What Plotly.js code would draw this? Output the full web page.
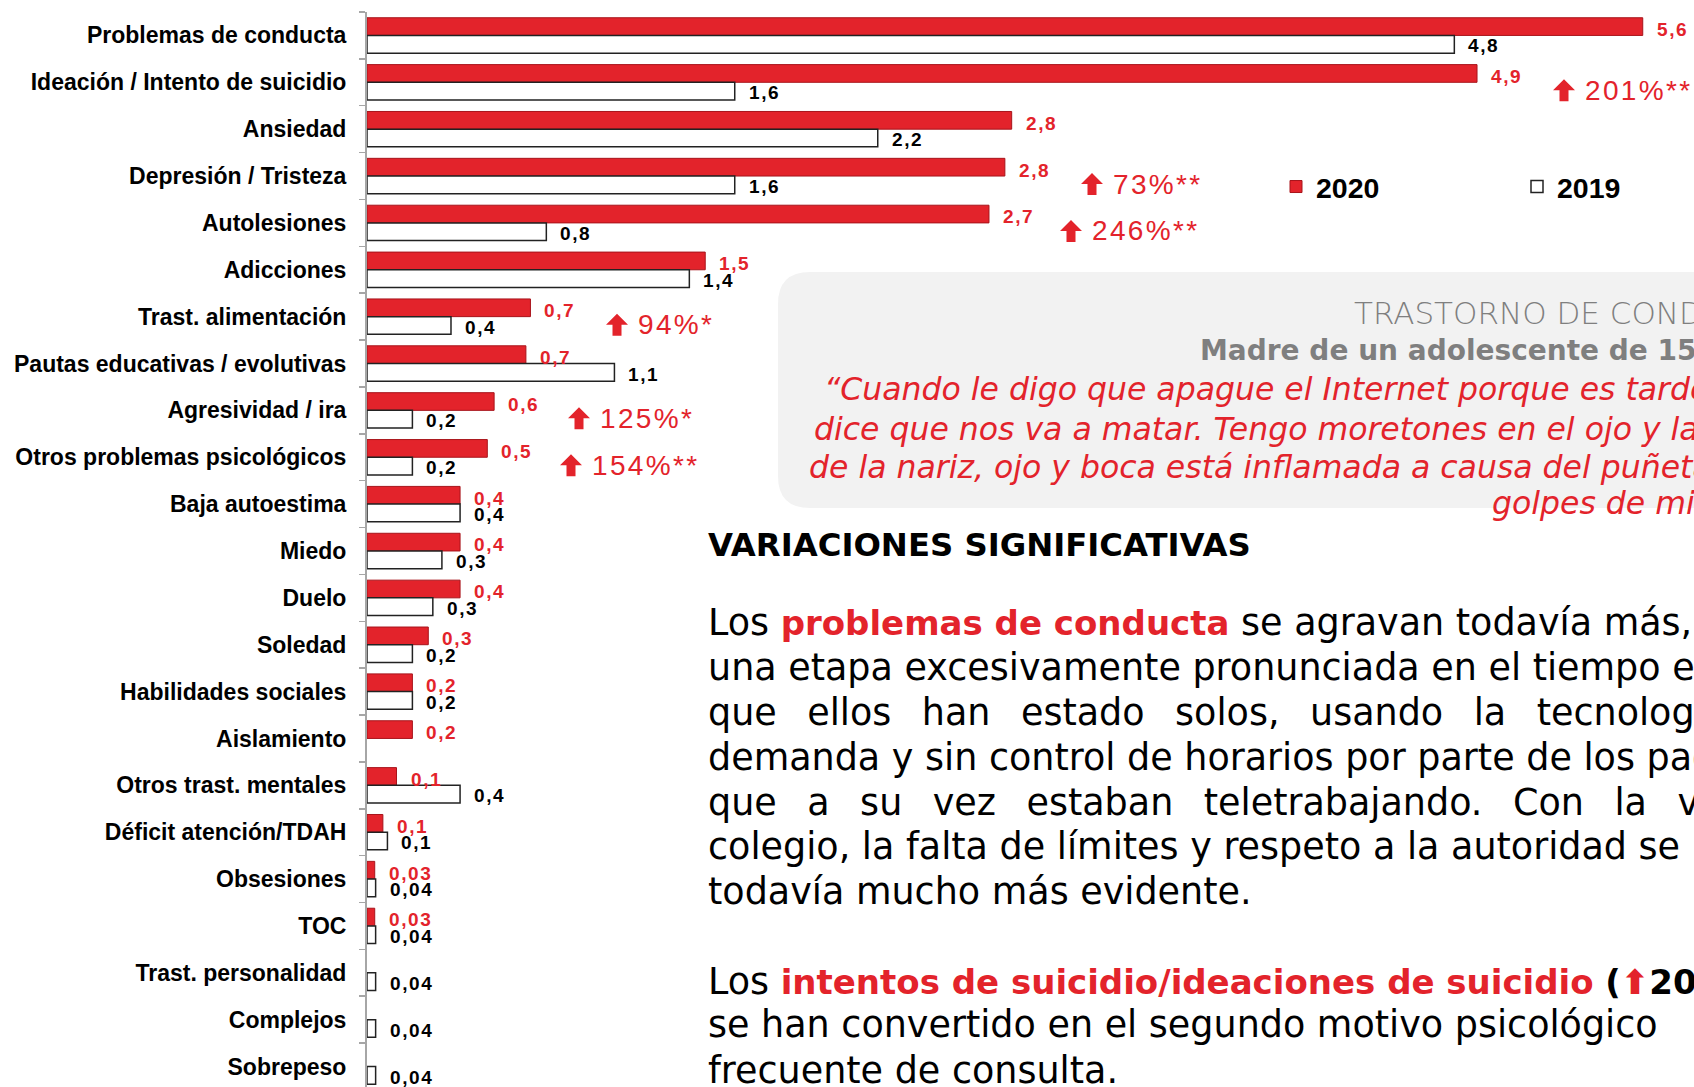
<!DOCTYPE html>
<html><head><meta charset="utf-8">
<script src="https://cdn.plot.ly/plotly-3.0.1.min.js"></script>
<style>html,body{margin:0;padding:0;background:#fff;overflow:hidden}#chart{width:1694px;height:1087px}</style>
</head><body><div id="chart"></div>
<script>
// ---------- DATA ----------
const categories = ["Problemas de conducta","Ideación / Intento de suicidio","Ansiedad","Depresión / Tristeza","Autolesiones","Adicciones","Trast. alimentación","Pautas educativas / evolutivas","Agresividad / ira","Otros problemas psicológicos","Baja autoestima","Miedo","Duelo","Soledad","Habilidades sociales","Aislamiento","Otros trast. mentales","Déficit atención/TDAH","Obsesiones","TOC","Trast. personalidad","Complejos","Sobrepeso"];
const values2020 = [5.62,4.89,2.84,2.81,2.74,1.49,0.72,0.70,0.56,0.53,0.41,0.41,0.41,0.27,0.20,0.20,0.13,0.07,0.034,0.034,null,null,null];
const values2019 = [4.79,1.62,2.25,1.62,0.79,1.42,0.37,1.09,0.20,0.20,0.41,0.33,0.29,0.20,0.20,null,0.41,0.09,0.038,0.038,0.038,0.038,0.038];
const labels2020 = ["5,6","4,9","2,8","2,8","2,7","1,5","0,7","0,7","0,6","0,5","0,4","0,4","0,4","0,3","0,2","0,2","0,1","0,1","0,03","0,03","","",""];
const labels2019 = ["4,8","1,6","2,2","1,6","0,8","1,4","0,4","1,1","0,2","0,2","0,4","0,3","0,3","0,2","0,2","","0,4","0,1","0,04","0,04","0,04","0,04","0,04"];
const changeCats = ["Ideación / Intento de suicidio","Depresión / Tristeza","Autolesiones","Trast. alimentación","Agresividad / ira","Otros problemas psicológicos"];
const changeLabels = ["201%**","73%**","246%**","94%*","125%*","154%**"];
const seriesNames = ["2020","2019"];

// ---------- STYLE / POSITIONS ----------
const W = 1694, H = 1087, L = 367, T = 12, B = 0;
const PXU = 227;                       // pixels per unit on x
const changeX = [1585,1113,1092,638,600,592];   // left pixel of the % text
const RED = '#e3232b';
const px = x => (x - L) / (W - L);
const py = y => (H - B - y) / (H - T - B);
const sp = s => s.split('').join('\u200a');
// block up-arrow icon, pixels relative to anchor (y up)
const arrowPath = 'M0,3 L11,-8 L4.5,-8 L4.5,-19 L-4.5,-19 L-4.5,-8 L-11,-8 Z';

const traces = [
  {type:'bar', orientation:'h', name:seriesNames[0], y:categories, x:values2020,
   marker:{color:RED, line:{color:'#a8141b', width:1}}, hoverinfo:'x+y'},
  {type:'bar', orientation:'h', name:seriesNames[1], y:categories, x:values2019,
   marker:{color:'#ffffff', line:{color:'#222', width:1.5}}, hoverinfo:'x+y'}
];

const ann = [];
const shapes = [];
categories.forEach((c,i)=>{
  if (labels2020[i]) ann.push({x:values2020[i], y:c, xref:'x', yref:'y', text:sp(labels2020[i]),
    xanchor:'left', yanchor:'middle', xshift:12, yshift:6, showarrow:false,
    font:{family:'Liberation Sans, Arial', size:19, weight:'bold', color:RED}});
  if (labels2019[i]) ann.push({x:values2019[i], y:c, xref:'x', yref:'y', text:sp(labels2019[i]),
    xanchor:'left', yanchor:'middle', xshift:12, yshift:-10.5, showarrow:false,
    font:{family:'Liberation Sans, Arial', size:19, weight:'bold', color:'#000'}});
});
changeCats.forEach((c,i)=>{
  ann.push({x:px(changeX[i]-2), xref:'paper', y:c, yref:'y', yshift:-8, xanchor:'left', yanchor:'middle',
    showarrow:false, text:sp(changeLabels[i]),
    font:{family:'Liberation Sans, Arial', size:28, color:RED}});
  shapes.push({type:'path', xref:'paper', yref:'y', xsizemode:'pixel', ysizemode:'pixel',
    xanchor:px(changeX[i]-21), yanchor:c, path:arrowPath, fillcolor:RED, line:{width:0}});
});

// text block lines
const sans = 'DejaVu Sans';
function txt(x,y,text,font){ ann.push({x:px(x), y:py(y), xref:'paper', yref:'paper', xanchor:'left', yanchor:'middle', showarrow:false, text:text, align:'left', font:font}); }
const gray = '#7f7f7f';
txt(1352,313,'TRASTORNO DE CONDUCTA',{family:sans,size:31,color:gray,weight:300});
txt(1198,351,'<b>Madre de un adolescente de 15 años</b>',{family:sans,size:28,color:gray});
const qf = {family:sans,size:31.5,color:RED,style:'italic'};
txt(822,389,'“Cuando le digo que apague el Internet porque es tarde, me',qf);
txt(812,429,'dice que nos va a matar. Tengo moretones en el ojo y la parte',qf);
txt(807,467,'de la nariz, ojo y boca está inflamada a causa del puñetazo y',qf);
txt(1490,503,'golpes de mi hijo”',qf);
txt(706,545,'<b>VARIACIONES SIGNIFICATIVAS</b>',{family:sans,size:32.3,color:'#000'});
const bf = {family:sans,size:36.5,color:'#000'};
const gap = '\u00a0\u00a0\u2009';
const R = s => '<b><span style="color:'+RED+';font-size:34px">'+s+'</span></b>';
txt(706,622,'Los '+R('problemas de conducta')+' se agravan todavía más, tras',bf);
txt(706,667,'una etapa excesivamente pronunciada en el tiempo en el',bf);
txt(706,712,['que','ellos','han','estado','solos,','usando','la','tecnología','a'].join(gap),bf);
txt(706,757,'demanda y sin control de horarios por parte de los padres,',bf);
txt(706,802,['que','a','su','vez','estaban','teletrabajando.','Con','la','vuelta','al'].join(gap),bf);
txt(706,846,'colegio, la falta de límites y respeto a la autoridad se ha hecho',bf);
txt(706,891,'todavía mucho más evidente.',bf);
txt(706,981,'Los '+R('intentos de suicidio/ideaciones de suicidio')+' <b style="font-size:34px">(</b><span style="color:'+RED+';font-family:DejaVu Sans;font-weight:bold;font-size:34px">⬆</span><b style="font-size:34px">200%)</b>',bf);
txt(706,1024,'se han convertido en el segundo motivo psicológico\u00a0\u00a0\u00a0\u00a0\u00a0más',bf);
txt(706,1070,'frecuente de consulta.',bf);

// rounded gray box
const bx0=778, bx1=1760, by0=272, by1=508, r=32;
const boxPath = `M${px(bx0+r)},${py(by0)} L${px(bx1)},${py(by0)} L${px(bx1)},${py(by1)} L${px(bx0+r)},${py(by1)} Q${px(bx0)},${py(by1)} ${px(bx0)},${py(by1-r)} L${px(bx0)},${py(by0+r)} Q${px(bx0)},${py(by0)} ${px(bx0+r)},${py(by0)} Z`;
shapes.unshift({type:'path', xref:'paper', yref:'paper', path:boxPath, fillcolor:'#f2f2f2', line:{width:0}, layer:'below'});

const layout = {
  width:W, height:H, margin:{l:L, r:0, t:T, b:B, pad:0, autoexpand:false},
  paper_bgcolor:'#fff', plot_bgcolor:'rgba(0,0,0,0)',
  barmode:'group', bargap:0.245, bargroupgap:0,
  showlegend:true,
  legend:{orientation:'h', x:px(1276), y:py(187), xanchor:'left', yanchor:'middle',
    entrywidth:196, entrywidthmode:'pixels', bgcolor:'rgba(0,0,0,0)', traceorder:'normal',
    font:{family:'Liberation Sans, Arial', size:28.5, weight:'bold', color:'#000'}, itemclick:false, itemdoubleclick:false},
  xaxis:{range:[0,(W-L)/PXU], visible:false, fixedrange:true},
  yaxis:{type:'category', range:[22.437,-0.5], showline:true, linecolor:'#a6a6a6', linewidth:2,
    ticks:'outside', tickson:'boundaries', ticklen:6, tickcolor:'#a6a6a6', tickwidth:1.5,
    ticklabelstandoff:14, showgrid:false, zeroline:false, fixedrange:true, automargin:false,
    tickfont:{family:'Liberation Sans, Arial', size:23, weight:'bold', color:'#000'}},
  shapes:shapes,
  annotations:ann,
  separators:',.'
};
Plotly.newPlot('chart', traces, layout, {displayModeBar:false, staticPlot:true});
</script></body></html>
